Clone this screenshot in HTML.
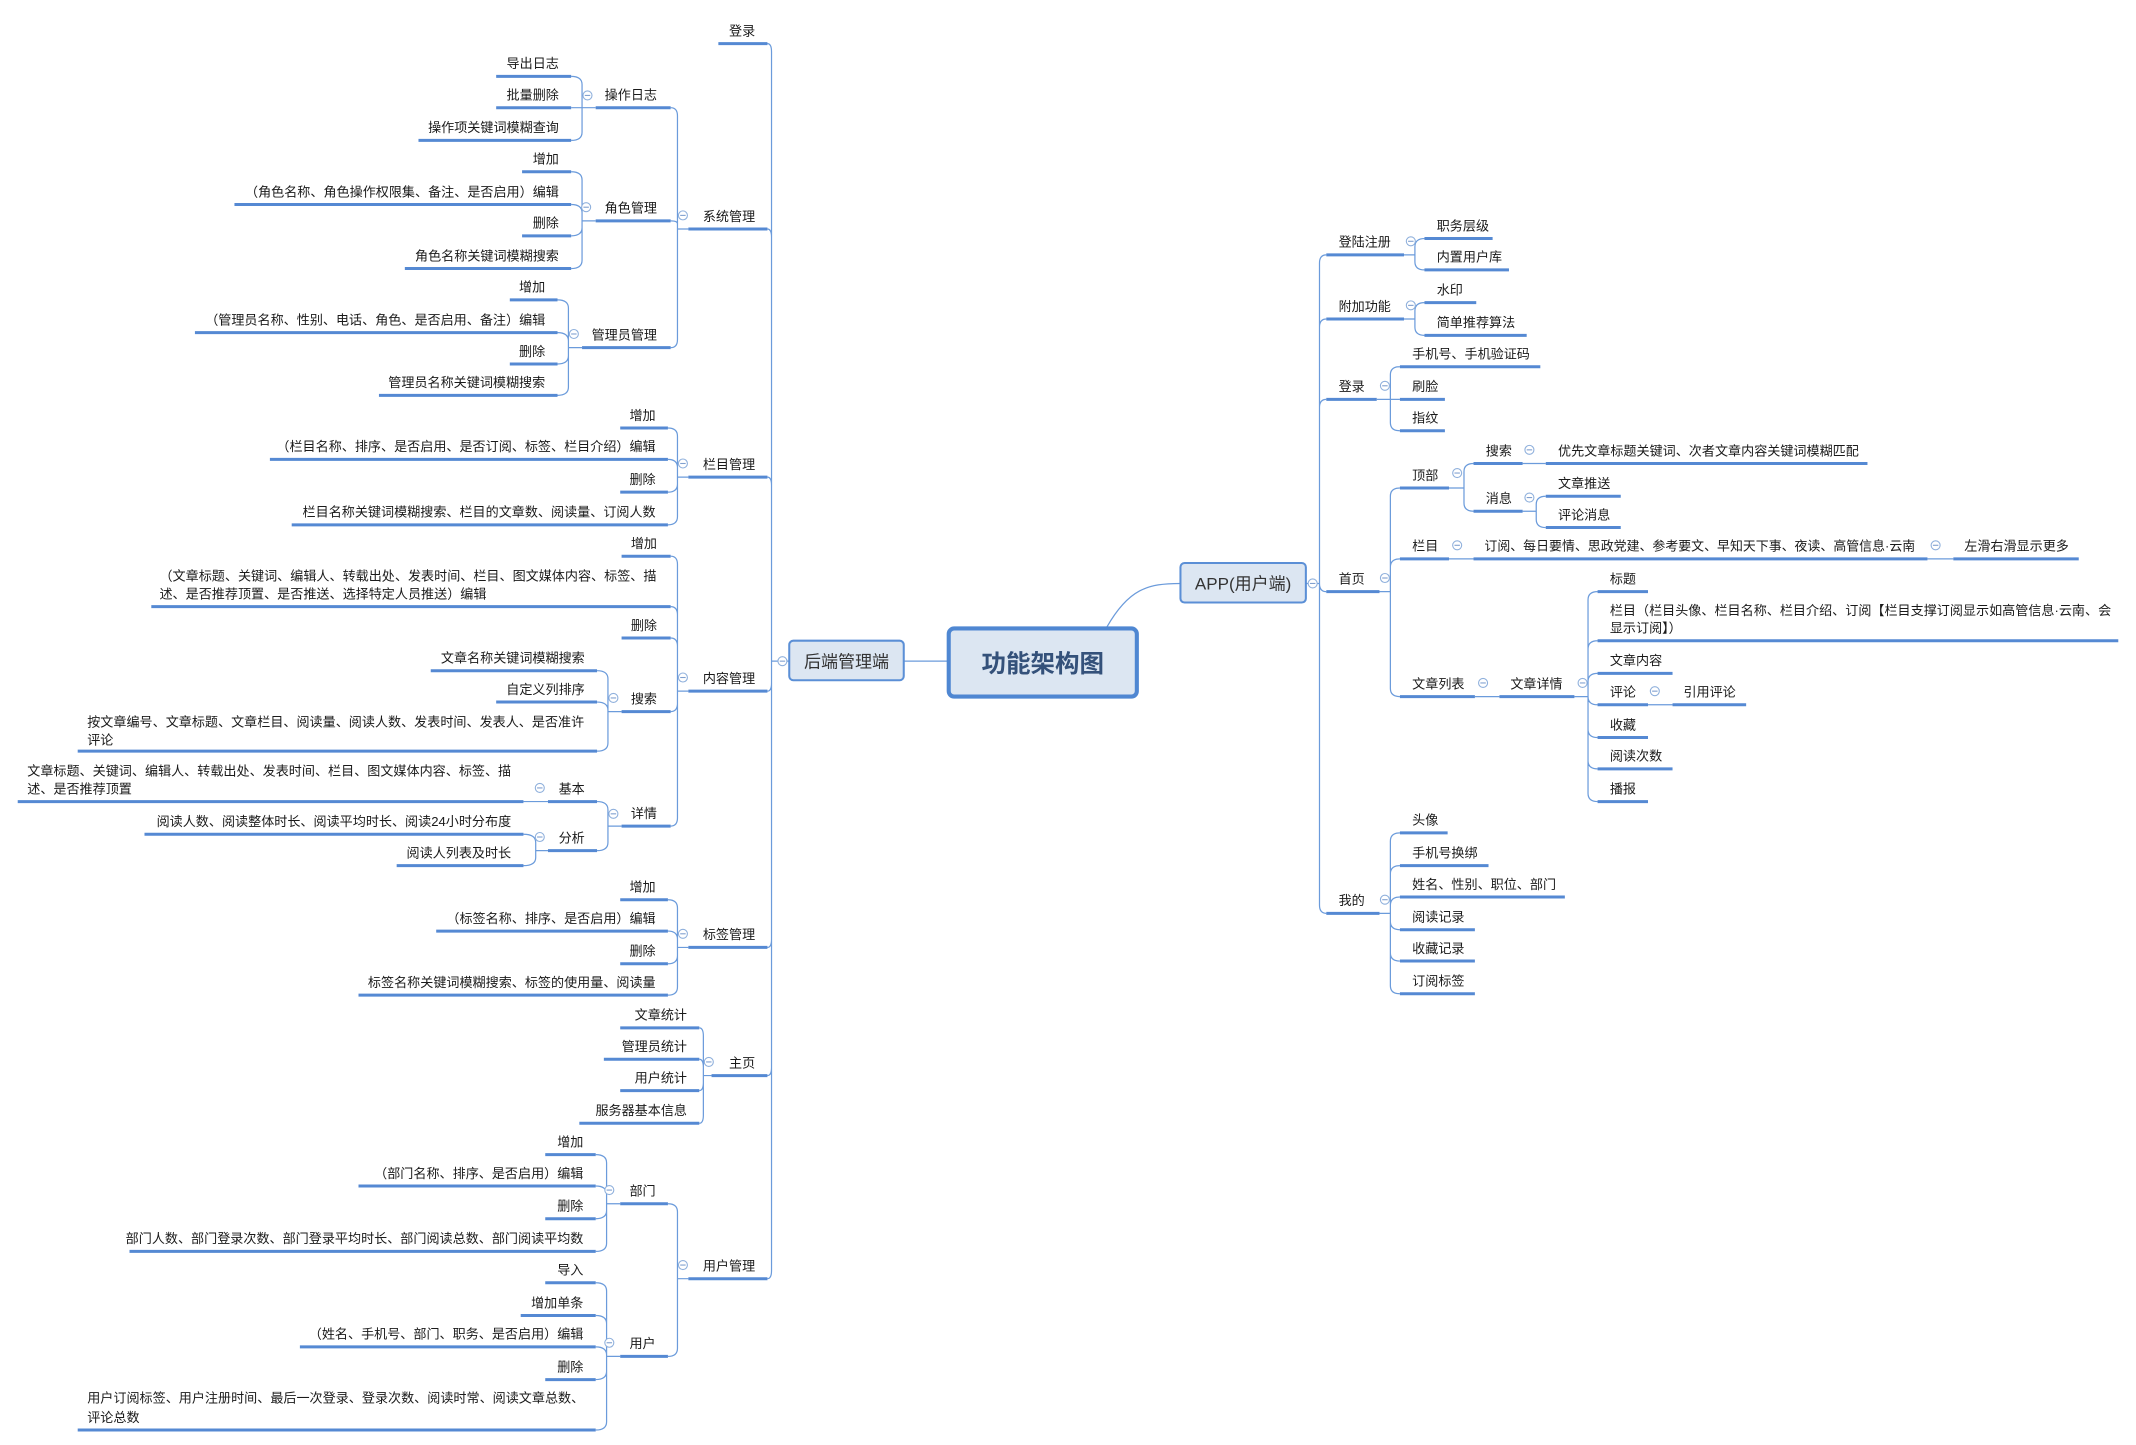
<!DOCTYPE html>
<html><head><meta charset="utf-8"><style>
html,body{margin:0;padding:0;background:#fff;}
svg{display:block;}
text{font-family:"Liberation Sans","Noto Sans CJK SC",sans-serif;font-size:9.6px;fill:#1a1a1a;}
.l{text-anchor:end;}
.u{stroke:#5589d3;stroke-width:2.2;fill:none;}
.c{stroke:#6b9bdb;stroke-width:0.9;fill:none;}
.o{fill:#fff;stroke:#8fb0dc;stroke-width:0.8;}
.m{stroke:#7f9fcf;stroke-width:0.8;}
</style></head><body>
<svg width="2136" height="1445" viewBox="0 0 1567 1060" preserveAspectRatio="none" xmlns="http://www.w3.org/2000/svg">
<!-- connectors -->
<path class="c" d="
M579 485H566V38Q566 32 563 32 M579 485H566V174Q566 168 563 168 M579 485H566V356Q566 350 563 350 M579 485H566V501Q566 507 563 507 M579 485H566V689Q566 695 563 695 M579 485H566V783Q566 789 563 789 M579 485H566V932Q566 938 563 938
M505 168H497V85Q497 79 492 79 M505 168H497V164Q497 162 492 162 M505 168H497V249Q497 255 492 255
M437 79H427V62Q427 56 419 56 M437 79H419 M437 79H427V97Q427 103 419 103
M437 162H427V132Q427 126 419 126 M437 162H427V156Q427 150 419 150 M437 162H427V167Q427 173 419 173 M437 162H427V191Q427 197 419 197
M427 255H417V226Q417 220 409 220 M427 255H417V250Q417 244 409 244 M427 255H417V261Q417 267 409 267 M427 255H417V284Q417 290 409 290
M505 350H497V320Q497 314 490 314 M505 350H497V343Q497 337 490 337 M505 350H497V355Q497 361 490 361 M505 350H497V379Q497 385 490 385
M505 507H497V414Q497 408 492 408 M505 507H497V451Q497 445 492 445 M505 507H497V474Q497 468 492 468 M505 507H497V516Q497 522 492 522 M505 507H497V600Q497 606 492 606
M456 522H446V498Q446 492 438 492 M456 522H446V521Q446 515 438 515 M456 522H446V545Q446 551 438 551
M456 606H446V594Q446 588 438 588 M456 606H446V618Q446 624 438 624
M402 588H384
M402 624H393V618Q393 612 384 612 M402 624H393V629Q393 635 384 635
M505 695H497V666Q497 660 490 660 M505 695H497V689Q497 683 490 683 M505 695H497V701Q497 707 490 707 M505 695H497V724Q497 730 490 730
M522 789H516V760Q516 754 513 754 M522 789H516V783Q516 777 513 777 M522 789H516V794Q516 800 513 800 M522 789H516V818Q516 824 513 824
M505 938H497V889Q497 883 490 883 M505 938H497V989Q497 995 490 995
M455 883H445V853Q445 847 437 847 M455 883H445V876Q445 870 437 870 M455 883H445V888Q445 894 437 894 M455 883H445V912Q445 918 437 918
M455 995H445V947Q445 941 437 941 M455 995H445V971Q445 965 437 965 M455 995H445V994Q445 988 437 988 M455 995H445V1006Q445 1012 437 1012 M455 995H445V1043Q445 1049 437 1049
M958 428H968V193Q968 187 973 187 M958 428H968V240Q968 234 973 234 M958 428H968V299Q968 293 973 293 M958 428H968V428Q968 434 973 434 M958 428H968V664Q968 670 973 670
M1030 187H1038V181Q1038 175 1045 175 M1030 187H1038V192Q1038 198 1045 198
M1030 234H1038V228Q1038 222 1045 222 M1030 234H1038V240Q1038 246 1045 246
M1010 293H1020V275Q1020 269 1027 269 M1010 293H1027 M1010 293H1020V310Q1020 316 1027 316
M1012 434H1020V364Q1020 358 1027 358 M1012 434H1020V416Q1020 410 1027 410 M1012 434H1020V505Q1020 511 1027 511
M1063 358H1074V346Q1074 340 1081 340 M1063 358H1074V369Q1074 375 1081 375
M1117 340H1134
M1117 375H1127V370Q1127 364 1134 364 M1117 375H1127V381Q1127 387 1134 387
M1063 410H1081 M1414 410H1433 M1082 511H1100
M1155 511H1165V440Q1165 434 1172 434 M1155 511H1165V476Q1165 470 1172 470 M1155 511H1165V500Q1165 494 1172 494 M1155 511H1165V511Q1165 517 1172 517 M1155 511H1165V535Q1165 541 1172 541 M1155 511H1165V558Q1165 564 1172 564 M1155 511H1165V582Q1165 588 1172 588
M1209 517H1227
M1012 670H1020V617Q1020 611 1027 611 M1012 670H1020V641Q1020 635 1027 635 M1012 670H1020V664Q1020 658 1027 658 M1012 670H1020V676Q1020 682 1027 682 M1012 670H1020V699Q1020 705 1027 705 M1012 670H1020V723Q1020 729 1027 729
M663 485H695 M812 460C828 432 842 428 866 428"/>

<!-- underlines -->
<path class="u" d="
M527 32H563 M505 168H563 M505 350H563 M505 507H563 M505 695H563 M522 789H563 M505 938H563
M437 79H492 M437 162H492 M427 255H492
M364 56H419 M364 79H419 M307 103H419
M383 126H419 M172 150H419 M383 173H419 M297 197H419
M374 220H409 M143 244H409 M374 267H409 M278 290H409
M455 314H490 M198 337H490 M455 361H490 M214 385H490
M456 408H492 M111 445H492 M456 468H492 M456 522H492 M456 606H492
M316 492H438 M364 515H438 M57 551H438
M402 588H438 M402 624H438 M13 588H384 M106 612H384 M291 635H384
M455 660H490 M320 683H490 M455 707H490 M263 730H490
M455 754H513 M443 777H513 M455 800H513 M425 824H513
M455 883H490 M455 995H490
M400 847H437 M263 870H437 M400 894H437 M95 918H437
M400 941H437 M382 965H437 M220 988H437 M400 1012H437 M57 1049H437
M973 187H1030 M973 234H1030 M973 293H1010 M973 434H1012 M973 670H1012
M1045 175H1095 M1045 198H1107 M1045 222H1083 M1045 246H1120
M1027 269H1130 M1027 293H1060 M1027 316H1060
M1027 358H1063 M1027 410H1063 M1027 511H1082
M1081 340H1117 M1081 375H1117 M1134 340H1370 M1134 364H1189 M1134 387H1189
M1081 410H1414 M1433 410H1525 M1100 511H1155
M1172 434H1209 M1172 470H1554 M1172 494H1227 M1172 517H1209 M1172 541H1209 M1172 564H1227 M1172 588H1209 M1227 517H1281
M1027 611H1062 M1027 635H1092 M1027 658H1148 M1027 682H1082 M1027 705H1082 M1027 729H1082"/>

<!-- boxes -->
<rect x="579" y="470" width="84" height="29" rx="3" fill="#dce6f2" stroke="#5b8fd6" stroke-width="1.5"/>
<text x="621" y="489.5" text-anchor="middle" style="font-size:12.5px;fill:#333">后端管理端</text>
<rect x="866" y="413" width="92" height="29" rx="3" fill="#dce6f2" stroke="#5b8fd6" stroke-width="1.5"/>
<text x="912" y="432.5" text-anchor="middle" style="font-size:12.5px;fill:#333">APP(用户端)</text>
<rect x="696" y="461" width="138" height="50" rx="4" fill="#dce6f2" stroke="#4f87d2" stroke-width="3"/>
<text x="765" y="493" text-anchor="middle" style="font-size:18px;font-weight:bold;fill:#34517a">功能架构图</text>

<!-- left texts -->
<g class="l">
<text class="l" x="554" y="26">登录</text>
<text class="l" x="554" y="162">系统管理</text>
<text class="l" x="554" y="344">栏目管理</text>
<text class="l" x="554" y="501">内容管理</text>
<text class="l" x="554" y="689">标签管理</text>
<text class="l" x="554" y="783">主页</text>
<text class="l" x="554" y="932">用户管理</text>
<text class="l" x="482" y="73">操作日志</text>
<text class="l" x="482" y="156">角色管理</text>
<text class="l" x="482" y="249">管理员管理</text>
<text class="l" x="410" y="50">导出日志</text>
<text class="l" x="410" y="73">批量删除</text>
<text class="l" x="410" y="97">操作项关键词模糊查询</text>
<text class="l" x="410" y="120">增加</text>
<text class="l" x="410" y="144">（角色名称、角色操作权限集、备注、是否启用）编辑</text>
<text class="l" x="410" y="167">删除</text>
<text class="l" x="410" y="191">角色名称关键词模糊搜索</text>
<text class="l" x="400" y="214">增加</text>
<text class="l" x="400" y="238">（管理员名称、性别、电话、角色、是否启用、备注）编辑</text>
<text class="l" x="400" y="261">删除</text>
<text class="l" x="400" y="284">管理员名称关键词模糊搜索</text>
<text class="l" x="481" y="308">增加</text>
<text class="l" x="481" y="331">（栏目名称、排序、是否启用、是否订阅、标签、栏目介绍）编辑</text>
<text class="l" x="481" y="355">删除</text>
<text class="l" x="481" y="379">栏目名称关键词模糊搜索、栏目的文章数、阅读量、订阅人数</text>
<text class="l" x="482" y="402">增加</text>
<text class="l" x="482" y="462">删除</text>
<text class="l" x="482" y="516">搜索</text>
<text class="l" x="482" y="600">详情</text>
<text class="l" x="429" y="486">文章名称关键词模糊搜索</text>
<text class="l" x="429" y="509">自定义列排序</text>
<text class="l" x="429" y="582">基本</text>
<text class="l" x="429" y="618">分析</text>
<text class="l" x="375" y="606">阅读人数、阅读整体时长、阅读平均时长、阅读24小时分布度</text>
<text class="l" x="375" y="629">阅读人列表及时长</text>
<text class="l" x="481" y="654">增加</text>
<text class="l" x="481" y="677">（标签名称、排序、是否启用）编辑</text>
<text class="l" x="481" y="701">删除</text>
<text class="l" x="481" y="724">标签名称关键词模糊搜索、标签的使用量、阅读量</text>
<text class="l" x="504" y="748">文章统计</text>
<text class="l" x="504" y="771">管理员统计</text>
<text class="l" x="504" y="794">用户统计</text>
<text class="l" x="504" y="818">服务器基本信息</text>
<text class="l" x="481" y="877">部门</text>
<text class="l" x="481" y="989">用户</text>
<text class="l" x="428" y="841">增加</text>
<text class="l" x="428" y="864">（部门名称、排序、是否启用）编辑</text>
<text class="l" x="428" y="888">删除</text>
<text class="l" x="428" y="912">部门人数、部门登录次数、部门登录平均时长、部门阅读总数、部门阅读平均数</text>
<text class="l" x="428" y="935">导入</text>
<text class="l" x="428" y="959">增加单条</text>
<text class="l" x="428" y="982">（姓名、手机号、部门、职务、是否启用）编辑</text>
<text class="l" x="428" y="1006">删除</text>
</g>
<text x="117" y="426">（文章标题、关键词、编辑人、转载出处、发表时间、栏目、图文媒体内容、标签、描</text>
<text x="117" y="439">述、是否推荐顶置、是否推送、选择特定人员推送）编辑</text>
<text x="64" y="533">按文章编号、文章标题、文章栏目、阅读量、阅读人数、发表时间、发表人、是否准许</text>
<text x="64" y="546">评论</text>
<text x="20" y="569">文章标题、关键词、编辑人、转载出处、发表时间、栏目、图文媒体内容、标签、描</text>
<text x="20" y="582">述、是否推荐顶置</text>
<text x="64" y="1029">用户订阅标签、用户注册时间、最后一次登录、登录次数、阅读时常、阅读文章总数、</text>
<text x="64" y="1043">评论总数</text>

<!-- right texts -->
<text x="982" y="181">登陆注册</text>
<text x="982" y="228">附加功能</text>
<text x="982" y="287">登录</text>
<text x="982" y="428">首页</text>
<text x="982" y="664">我的</text>
<text x="1054" y="169">职务层级</text>
<text x="1054" y="192">内置用户库</text>
<text x="1054" y="216">水印</text>
<text x="1054" y="240">简单推荐算法</text>
<text x="1036" y="263">手机号、手机验证码</text>
<text x="1036" y="287">刷脸</text>
<text x="1036" y="310">指纹</text>
<text x="1036" y="352">顶部</text>
<text x="1036" y="404">栏目</text>
<text x="1036" y="505">文章列表</text>
<text x="1090" y="334">搜索</text>
<text x="1090" y="369">消息</text>
<text x="1143" y="334">优先文章标题关键词、次者文章内容关键词模糊匹配</text>
<text x="1143" y="358">文章推送</text>
<text x="1143" y="381">评论消息</text>
<text x="1089" y="404" textLength="316" lengthAdjust="spacingAndGlyphs">订阅、每日要情、思政党建、参考要文、早知天下事、夜读、高管信息·云南</text>
<text x="1441" y="404">左滑右滑显示更多</text>
<text x="1108" y="505">文章详情</text>
<text x="1181" y="428">标题</text>
<text x="1181" y="451">栏目（栏目头像、栏目名称、栏目介绍、订阅【栏目支撑订阅显示如高管信息·云南、会</text>
<text x="1181" y="464">显示订阅】）</text>
<text x="1181" y="488">文章内容</text>
<text x="1181" y="511">评论</text>
<text x="1181" y="535">收藏</text>
<text x="1181" y="558">阅读次数</text>
<text x="1181" y="582">播报</text>
<text x="1235" y="511">引用评论</text>
<text x="1036" y="605">头像</text>
<text x="1036" y="629">手机号换绑</text>
<text x="1036" y="652">姓名、性别、职位、部门</text>
<text x="1036" y="676">阅读记录</text>
<text x="1036" y="699">收藏记录</text>
<text x="1036" y="723">订阅标签</text>

<!-- collapse circles -->
<g>
<circle class="o" cx="574" cy="485" r="3.3"/><path class="m" d="M572 485H576"/>
<circle class="o" cx="501" cy="158" r="3.3"/><path class="m" d="M499 158H503"/>
<circle class="o" cx="431" cy="70" r="3.3"/><path class="m" d="M429 70H433"/>
<circle class="o" cx="430" cy="152" r="3.3"/><path class="m" d="M428 152H432"/>
<circle class="o" cx="421" cy="245" r="3.3"/><path class="m" d="M419 245H423"/>
<circle class="o" cx="501" cy="340" r="3.3"/><path class="m" d="M499 340H503"/>
<circle class="o" cx="501" cy="497" r="3.3"/><path class="m" d="M499 497H503"/>
<circle class="o" cx="450" cy="512" r="3.3"/><path class="m" d="M448 512H452"/>
<circle class="o" cx="450" cy="597" r="3.3"/><path class="m" d="M448 597H452"/>
<circle class="o" cx="396" cy="578" r="3.3"/><path class="m" d="M394 578H398"/>
<circle class="o" cx="396" cy="614" r="3.3"/><path class="m" d="M394 614H398"/>
<circle class="o" cx="501" cy="685" r="3.3"/><path class="m" d="M499 685H503"/>
<circle class="o" cx="520" cy="779" r="3.3"/><path class="m" d="M518 779H522"/>
<circle class="o" cx="501" cy="928" r="3.3"/><path class="m" d="M499 928H503"/>
<circle class="o" cx="447" cy="873" r="3.3"/><path class="m" d="M445 873H449"/>
<circle class="o" cx="447" cy="985" r="3.3"/><path class="m" d="M445 985H449"/>
<circle class="o" cx="963" cy="428" r="3.3"/><path class="m" d="M961 428H965"/>
<circle class="o" cx="1035" cy="177" r="3.3"/><path class="m" d="M1033 177H1037"/>
<circle class="o" cx="1035" cy="224" r="3.3"/><path class="m" d="M1033 224H1037"/>
<circle class="o" cx="1016" cy="283" r="3.3"/><path class="m" d="M1014 283H1018"/>
<circle class="o" cx="1016" cy="424" r="3.3"/><path class="m" d="M1014 424H1018"/>
<circle class="o" cx="1069" cy="347" r="3.3"/><path class="m" d="M1067 347H1071"/>
<circle class="o" cx="1122" cy="330" r="3.3"/><path class="m" d="M1120 330H1124"/>
<circle class="o" cx="1122" cy="365" r="3.3"/><path class="m" d="M1120 365H1124"/>
<circle class="o" cx="1069" cy="400" r="3.3"/><path class="m" d="M1067 400H1071"/>
<circle class="o" cx="1420" cy="400" r="3.3"/><path class="m" d="M1418 400H1422"/>
<circle class="o" cx="1088" cy="501" r="3.3"/><path class="m" d="M1086 501H1090"/>
<circle class="o" cx="1161" cy="501" r="3.3"/><path class="m" d="M1159 501H1163"/>
<circle class="o" cx="1214" cy="507" r="3.3"/><path class="m" d="M1212 507H1216"/>
<circle class="o" cx="1016" cy="660" r="3.3"/><path class="m" d="M1014 660H1018"/>
</g>
</svg>
</body></html>
